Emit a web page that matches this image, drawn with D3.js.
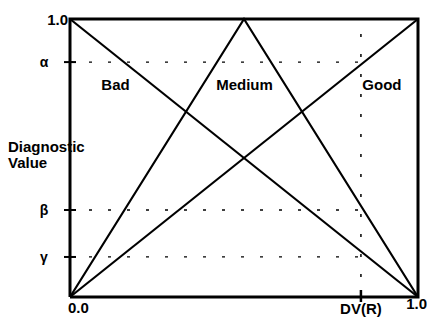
<!DOCTYPE html>
<html>
<head>
<meta charset="utf-8">
<script src="https://cdn.jsdelivr.net/npm/d3@7"></script>
<style>
  body { margin: 0; background: #fff; }
  text { font-family: "Liberation Sans", Arial, sans-serif; font-weight: bold; fill: #000; }
</style>
</head>
<body>
<div id="chart"></div>
<script>
// membership functions, as (x, y) corner points
var setNames = ["Bad", "Medium", "Good"];
var setPoints = [
  [[0, 1], [1, 0]],
  [[0, 0], [0.5, 1], [1, 0]],
  [[0, 0], [1, 1]]
];
var setLabelX = [0.09, 0.42, 0.84];
var setLabelY = 0.745;

// threshold levels on the diagnostic value axis
var levelNames = ["α", "β", "γ"];
var levelValues = [0.845, 0.313, 0.144];

var dvName = "DV(R)";
var dvValue = 0.836;

var width = 427, height = 322;
var margin = {top: 19, right: 9, bottom: 25, left: 70};

var svg = d3.select("#chart").append("svg")
  .attr("width", width)
  .attr("height", height);

var x = d3.scaleLinear().domain([0, 1]).range([margin.left, width - margin.right]);
var y = d3.scaleLinear().domain([0, 1]).range([height - margin.bottom, margin.top]);

var line = d3.line()
  .x(function(d) { return x(d[0]); })
  .y(function(d) { return y(d[1]); });

// dashed threshold lines
svg.selectAll(".level")
  .data(levelValues)
  .enter().append("line")
  .attr("x1", x(0))
  .attr("x2", x(dvValue))
  .attr("y1", function(d) { return y(d); })
  .attr("y2", function(d) { return y(d); })
  .attr("stroke", "#000")
  .attr("stroke-width", 1.3)
  .attr("stroke-dasharray", "3,16");

// DV(R) dotted vertical
svg.append("line")
  .attr("x1", x(dvValue)).attr("x2", x(dvValue))
  .attr("y1", y(0)).attr("y2", y(1))
  .attr("stroke", "#000")
  .attr("stroke-width", 1.5)
  .attr("stroke-dasharray", "3,17");

// membership lines
svg.selectAll(".set")
  .data(setPoints)
  .enter().append("path")
  .attr("d", line)
  .attr("fill", "none")
  .attr("stroke", "#000")
  .attr("stroke-width", 2.2);

// frame
svg.append("path")
  .attr("d", line([[0, 0], [0, 1], [1, 1], [1, 0], [0, 0]]))
  .attr("fill", "none")
  .attr("stroke", "#000")
  .attr("stroke-width", 3);

// ticks on the left axis
svg.selectAll(".tick")
  .data(levelValues)
  .enter().append("line")
  .attr("x1", x(0) - 6).attr("x2", x(0) + 6)
  .attr("y1", function(d) { return y(d); })
  .attr("y2", function(d) { return y(d); })
  .attr("stroke", "#000")
  .attr("stroke-width", 2);

svg.append("line")
  .attr("x1", x(dvValue)).attr("x2", x(dvValue))
  .attr("y1", y(0) - 7).attr("y2", y(0) + 5)
  .attr("stroke", "#000")
  .attr("stroke-width", 2.5);

// level labels
svg.selectAll(".levelLabel")
  .data(levelValues)
  .enter().append("text")
  .attr("x", 44)
  .attr("y", function(d) { return y(d) + 5; })
  .attr("text-anchor", "middle")
  .style("font-size", "14px")
  .text(function(d, i) { return levelNames[i]; });

// set labels
svg.selectAll(".setLabel")
  .data(setNames)
  .enter().append("text")
  .attr("x", function(d, i) { return x(setLabelX[i]); })
  .attr("y", y(setLabelY))
  .style("font-size", "15px")
  .text(function(d) { return d; });

// axis end labels
svg.append("text")
  .attr("x", x(0) - 2).attr("y", y(1) + 6)
  .attr("text-anchor", "end")
  .style("font-size", "15px")
  .text("1.0");

svg.append("text")
  .attr("x", x(0) - 2).attr("y", y(0) + 16)
  .style("font-size", "15px")
  .text("0.0");

svg.append("text")
  .attr("x", x(1) + 9).attr("y", y(0) + 12)
  .attr("text-anchor", "end")
  .style("font-size", "15px")
  .text("1.0");

svg.append("text")
  .attr("x", x(dvValue)).attr("y", y(0) + 17)
  .attr("text-anchor", "middle")
  .style("font-size", "15px")
  .text(dvName);

// y axis title
svg.append("text")
  .attr("x", 8).attr("y", 152)
  .style("font-size", "15px")
  .text("Diagnostic");

svg.append("text")
  .attr("x", 8).attr("y", 168)
  .style("font-size", "15px")
  .text("Value");
</script>
</body>
</html>
